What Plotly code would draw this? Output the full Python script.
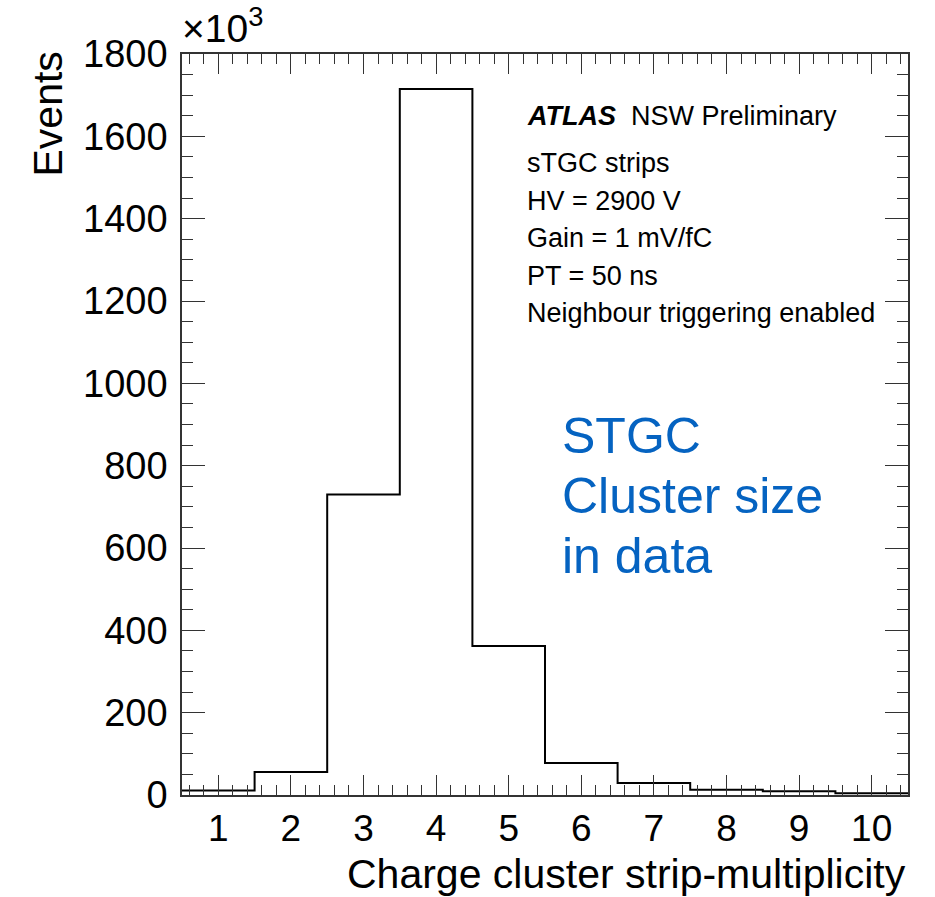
import plotly.graph_objects as go

# ---- data (values in units of 10^3 events) ----
bin_centers = [1, 2, 3, 4, 5, 6, 7, 8, 9, 10]
events_k = [11, 56, 730, 1715, 362, 78, 29, 13, 9, 4]
x_tick_labels = ["1", "2", "3", "4", "5", "6", "7", "8", "9", "10"]
y_tick_values = [0, 200, 400, 600, 800, 1000, 1200, 1400, 1600, 1800]
info_lines = ["sTGC strips", "HV = 2900 V", "Gain = 1 mV/fC", "PT = 50 ns",
              "Neighbour triggering enabled"]
blue_lines = ["STGC", "Cluster size", "in data"]

W, H = 935, 897
L, R, T, B = 182, 908, 54, 795
FONT = "Liberation Sans, Arial, Helvetica, sans-serif"

def px(xp):
    return (xp - L) / (R - L)

def py(yp):
    return (B - yp) / (B - T)

# step outline built from bin edges
edges = [c - 0.5 for c in bin_centers] + [bin_centers[-1] + 0.5]
step_y = events_k + [events_k[-1]]

fig = go.Figure()
fig.add_trace(go.Scatter(x=edges, y=step_y, mode="lines", line_shape="hv",
                         line=dict(color="black", width=2), showlegend=False,
                         hoverinfo="skip"))
# invisible trace on mirrored axes
fig.add_trace(go.Scatter(x=[edges[0]], y=[0], xaxis="x2", yaxis="y2",
                         mode="markers", marker=dict(opacity=0),
                         showlegend=False, hoverinfo="skip"))

axcol = "#333333"
common = dict(showgrid=False, zeroline=False, showline=True, linecolor=axcol,
              linewidth=1.5, ticks="inside", tickcolor=axcol, tickwidth=1.2)

fig.update_layout(
    width=W, height=H,
    margin=dict(l=L, r=W - R, t=T, b=H - B),
    paper_bgcolor="white", plot_bgcolor="white",
    font=dict(family=FONT, color="black"),
    xaxis=dict(range=[0.5, 10.5], tickvals=bin_centers, ticktext=x_tick_labels,
               ticklen=20, tickfont=dict(size=37), mirror=True,
               minor=dict(dtick=0.2, tick0=0, ticklen=10, ticks="inside",
                          tickcolor=axcol, tickwidth=1.2),
               **common),
    yaxis=dict(range=[0, 1800], tickvals=y_tick_values, ticklen=23,
               tickfont=dict(size=38), mirror=True, ticklabelstandoff=5,
               minor=dict(dtick=50, tick0=0, ticklen=11, ticks="inside",
                          tickcolor=axcol, tickwidth=1.2),
               **common),
    xaxis2=dict(range=[0.5, 10.5], overlaying="x", side="top",
                tickvals=bin_centers, showticklabels=False, ticklen=20,
                minor=dict(dtick=0.2, tick0=0, ticklen=10, ticks="inside",
                           tickcolor=axcol, tickwidth=1.2),
                **common),
    yaxis2=dict(range=[0, 1800], overlaying="y", side="right",
                tickvals=y_tick_values, showticklabels=False, ticklen=23,
                minor=dict(dtick=50, tick0=0, ticklen=11, ticks="inside",
                           tickcolor=axcol, tickwidth=1.2),
                **common),
)

ann = []
# axis titles
ann.append(dict(text="Charge cluster strip-multiplicity", x=px(908), y=py(849),
                xref="paper", yref="paper", xanchor="right", yanchor="top",
                showarrow=False, font=dict(size=41)))
ann.append(dict(text="Events", x=px(48), y=py(50), xref="paper", yref="paper",
                xanchor="center", yanchor="top", textangle=-90,
                showarrow=False, font=dict(size=41)))
ann.append(dict(text="×10<sup>3</sup>", x=px(180), y=py(52), xref="paper",
                yref="paper", xanchor="left", yanchor="bottom",
                showarrow=False, font=dict(size=39)))
# ATLAS label
ann.append(dict(text="<b><i>ATLAS</i></b>  NSW Preliminary", x=px(525),
                y=py(116), xref="paper", yref="paper", xanchor="left",
                yanchor="middle", showarrow=False, font=dict(size=27)))
for i, line in enumerate(info_lines):
    ann.append(dict(text=line, x=px(525), y=py(163 + i * 37.5), xref="paper",
                    yref="paper", xanchor="left", yanchor="middle",
                    showarrow=False, font=dict(size=27)))
for i, line in enumerate(blue_lines):
    ann.append(dict(text=line, x=px(560), y=py(436 + i * 60), xref="paper",
                    yref="paper", xanchor="left", yanchor="middle",
                    showarrow=False, font=dict(size=50, color="#0563C1")))
fig.update_layout(annotations=ann)

fig.write_html("out.html")
